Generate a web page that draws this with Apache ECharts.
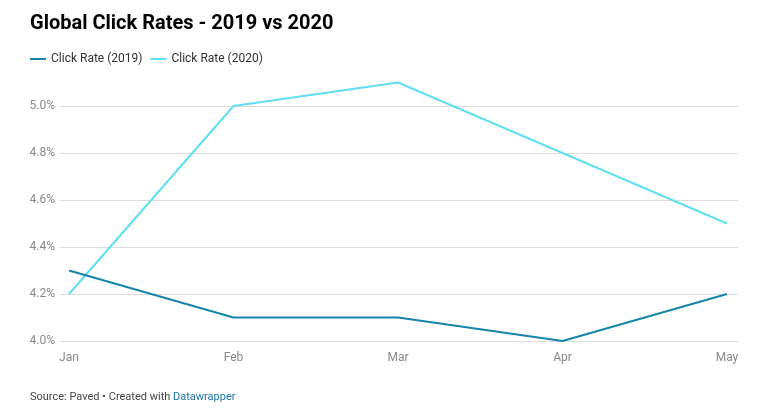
<!DOCTYPE html>
<html><head><meta charset="utf-8">
<script src="https://cdn.jsdelivr.net/npm/echarts@6/dist/echarts.min.js"></script>
<style>html,body{margin:0;padding:0;background:#fff}#c{width:772px;height:415px}</style>
</head><body><div id="c"></div>
<script>
const categories = ['Jan', 'Feb', 'Mar', 'Apr', 'May'];
const rate2019 = [4.3, 4.1, 4.1, 4.0, 4.2];
const rate2020 = [4.2, 5.0, 5.1, 4.8, 4.5];
const seriesNames = ['Click Rate (2019)', 'Click Rate (2020)'];
const yMin = 4.0, yMax = 5.0, yStep = 0.2;

const chart = echarts.init(document.getElementById('c'));
const font = 'Roboto, "Noto Sans", sans-serif';
chart.setOption({
  animation: false,
  textStyle: { fontFamily: font },
  title: [{
    text: 'Global Click Rates - 2019 vs 2020', left: 30, top: 14, padding: 0,
    textStyle: { fontSize: 20, fontWeight: 'bold', color: '#000', fontFamily: font }
  }, {
    text: '{a|Source: Paved • Created with }{b|Datawrapper}', left: 30, top: 392, padding: 0,
    textStyle: { fontWeight: 'normal', rich: {
      a: { fontSize: 11, color: '#444', fontWeight: 'normal', fontFamily: font },
      b: { fontSize: 11, color: '#1a74a5', fontWeight: 'normal', fontFamily: font } } }
  }],
  legend: {
    left: 30, top: 53, padding: 0, icon: 'rect', itemWidth: 16, itemHeight: 2, itemGap: 8,
    textStyle: { fontSize: 12, color: '#333', fontFamily: font },
    data: seriesNames
  },
  grid: [
    { left: 60, right: 34, top: 106, bottom: 74 },
    { left: 69, right: 45, top: 106, bottom: 74 }
  ],
  xAxis: [
    { type: 'category', gridIndex: 0, data: categories, show: false },
    { type: 'category', gridIndex: 1, data: categories, boundaryGap: false,
      axisLine: { show: false }, axisTick: { show: false },
      axisLabel: { color: '#888', fontSize: 12, margin: 11, fontFamily: font } }
  ],
  yAxis: [
    { type: 'value', gridIndex: 0, min: yMin, max: yMax, interval: yStep,
      axisLine: { show: false }, axisTick: { show: false },
      axisLabel: { color: '#888', fontSize: 12, margin: 5, fontFamily: font, formatter: v => v.toFixed(1) + '%' },
      splitLine: { lineStyle: { color: '#dcdcdc', width: 1 } } },
    { type: 'value', gridIndex: 1, min: yMin, max: yMax, interval: yStep, show: false,
      splitLine: { show: false } }
  ],
  series: [
    { name: seriesNames[0], type: 'line', xAxisIndex: 1, yAxisIndex: 1, data: rate2019,
      clip: false, symbol: 'none', lineStyle: { color: '#1684ab', width: 2 }, itemStyle: { color: '#1684ab' }, z: 3 },
    { name: seriesNames[1], type: 'line', xAxisIndex: 1, yAxisIndex: 1, data: rate2020,
      clip: false, symbol: 'none', lineStyle: { color: '#5fdff0', width: 2 }, itemStyle: { color: '#5fdff0' }, z: 2 }
  ]
});
</script></body></html>
